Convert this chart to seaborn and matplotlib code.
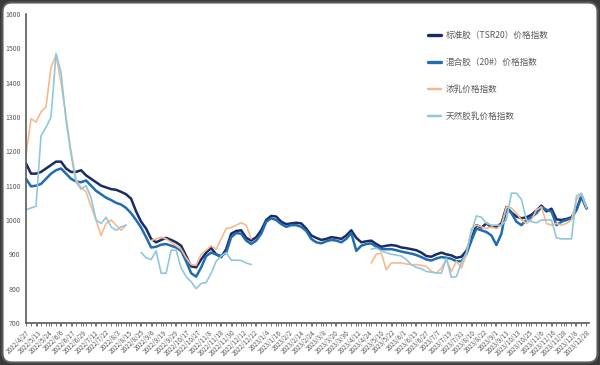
import numpy as np
import pandas as pd
import matplotlib
matplotlib.use("Agg")
import matplotlib.pyplot as plt
import seaborn as sns
from matplotlib.patches import FancyBboxPatch
from matplotlib.transforms import IdentityTransform
from matplotlib.lines import Line2D

sns.set_theme(style="white")
plt.rcParams['font.family'] = ['Noto Sans CJK SC', 'DejaVu Sans']

nan = np.nan

series_names = ["标准胶（TSR20）价格指数", "混合胶（20#）价格指数", "浓乳价格指数", "天然胶乳价格指数"]
series_colors = ["#1b2b63", "#1f6cb3", "#f6b98c", "#8fc7dc"]
series_widths = [1.8, 1.8, 1.2, 1.2]

tsr20 = [1165, 1135, 1135, 1140, 1150, 1160, 1170, 1170, 1150, 1140,
         1140, 1145, 1130, 1120, 1110, 1100, 1095, 1090, 1088, 1082,
         1075, 1062, 1025, 995, 975, 945, 935, 942, 948, 942,
         935, 925, 895, 865, 862, 885, 905, 918, 900, 892,
         915, 960, 968, 970, 948, 940, 950, 970, 1000, 1012,
         1010, 995, 988, 990, 992, 990, 975, 955, 948, 942,
         945, 950, 948, 945, 955, 970, 948, 935, 938, 940,
         930, 922, 925, 927, 925, 920, 918, 915, 912, 905,
         895, 893, 900, 905, 900, 897, 890, 893, 910, 945,
         985, 978, 990, 980, 980, 990, 1038, 1022, 1010, 1005,
         1008, 1015, 1028, 1042, 1025, 1033, 1002, 1000, 1003, 1008,
         1030, 1072, 1035]

mixed20 = [1120, 1098, 1100, 1105, 1120, 1135, 1145, 1150, 1135, 1120,
           1112, 1110, 1115, 1100, 1085, 1075, 1065, 1058, 1050, 1045,
           1035, 1020, 1000, 978, 950, 920, 922, 928, 930, 925,
           920, 910, 880, 845, 835, 862, 895, 905, 900, 895,
           905, 950, 962, 960, 940, 930, 940, 960, 995, 1005,
           1000, 988, 980, 985, 985, 980, 968, 945, 935, 932,
           938, 942, 940, 935, 945, 962, 910, 925, 930, 932,
           922, 915, 915, 915, 912, 908, 905, 902, 898, 892,
           885, 882, 888, 892, 890, 887, 880, 880, 900, 940,
           975, 970, 965, 955, 927, 960, 1035, 1020, 995, 985,
           1000, 1008, 1020, 1038, 1030, 1025, 985, 995, 1000, 1005,
           1030, 1067, 1033]

latex_conc = [1190, 1295, 1285, 1315, 1330, 1445, 1480, 1400, 1300, 1200,
              1116, 1095, 1082, 1040, 1000, 955, 990, 1000, 985, 970,
              985, nan, nan, nan, nan, 940, 945, 950, 945, 935,
              925, 915, 890, 870, 868, 900, 912, 925, 915, 945,
              975, 978, 985, 992, 985, 945, nan, nan, nan, nan,
              nan, nan, nan, nan, nan, nan, nan, nan, nan, nan,
              nan, nan, nan, nan, nan, nan, nan, nan, nan, 875,
              900, 904, 855, 875, 875, 875, 872, 870, 870, 868,
              865, 850, 845, 860, 885, 850, 880, 860, 900, 975,
              985, 980, 975, 980, 975, 985, 1038, 1035, 1020, 1000,
              990, 1000, 1030, 1038, 990, 985, 990, 985, 990, 1000,
              1060, 1075, 1035]

nat_latex = [1030, 1035, 1040, 1245, 1270, 1300, 1485, 1430, 1290, 1190,
             1110, 1090, 1100, 1065, 1000, 990, 1008, 980, 970, 980,
             985, nan, nan, 905, 890, 885, 910, 845, 845, 912,
             912, 860, 835, 820, 800, 815, 818, 845, 880, 895,
             905, 883, 883, 882, 875, 870, nan, nan, nan, nan,
             nan, nan, nan, nan, nan, nan, nan, nan, nan, nan,
             nan, nan, nan, nan, nan, nan, nan, nan, nan, 915,
             918, 910, 905, 900, 898, 895, 885, 870, 862, 858,
             850, 848, 846, 845, 888, 833, 835, 875, 905, 965,
             1012, 1008, 990, 985, 985, 985, 1000, 1078, 1078, 1060,
             1000, 995, 992, 1000, 1000, 1000, 948, 945, 945, 945,
             1070, 1078, 1038]

date_labels = ["2022/4/27", "2022/5/13", "2022/5/24", "2022/6/6", "2022/6/17", "2022/6/29",
               "2022/7/12", "2022/7/22", "2022/8/3", "2022/8/15", "2022/8/25", "2022/9/6",
               "2022/9/19", "2022/9/29", "2022/10/17", "2022/10/27", "2022/11/8", "2022/11/18",
               "2022/11/30", "2022/12/12", "2022/12/22", "2023/1/4", "2023/1/16", "2023/2/2",
               "2023/2/14", "2023/2/24", "2023/3/8", "2023/3/20", "2023/3/30", "2023/4/12",
               "2023/4/24", "2023/5/10", "2023/5/22", "2023/6/1", "2023/6/13", "2023/6/27",
               "2023/7/7", "2023/7/19", "2023/7/31", "2023/8/10", "2023/8/22", "2023/9/1",
               "2023/9/13", "2023/10/13", "2023/10/25", "2023/11/6", "2023/11/16", "2023/11/28",
               "2023/12/8", "2023/12/28"]

y_ticks = [700, 800, 900, 1000, 1100, 1200, 1300, 1400, 1500, 1600]

all_series = [tsr20, mixed20, latex_conc, nat_latex]
N = len(tsr20)

fig = plt.figure(figsize=(6, 3.65), dpi=100, facecolor="#3a3a3a")
fig.patches.append(FancyBboxPatch((2.5, 2.5), 595, 360,
                                  boxstyle="round,pad=0,rounding_size=9",
                                  transform=IdentityTransform(),
                                  facecolor="white", edgecolor="#5a5a5a",
                                  linewidth=1.5, zorder=-5))
ax = fig.add_axes([26/600, 1-323/365, (589-26)/600, (323-14)/365])
ax.set_facecolor("none")

handles = []
for name, vals, col, lw in zip(series_names, all_series, series_colors, series_widths):
    arr = np.array(vals, dtype=float)
    seg = np.cumsum(np.isnan(arr))
    df = pd.DataFrame({"idx": np.arange(N), "val": arr, "seg": seg}).dropna()
    sns.lineplot(data=df, x="idx", y="val", units="seg", estimator=None,
                 color=col, linewidth=lw, ax=ax, legend=False)
    handles.append(Line2D([0], [0], color=col, linewidth=lw + 0.6))

ax.set_xlim(0, N - 1 + 0.5)
ax.set_ylim(700, 1600)
ax.set_yticks(y_ticks)
ax.set_yticklabels([str(v) for v in y_ticks], fontsize=5, color="#595959")
tick_pos = np.linspace(0, N - 1, len(date_labels))
ax.set_xticks(tick_pos)
ax.set_xticklabels(date_labels, rotation=45, ha="right", rotation_mode="anchor",
                   fontsize=4.6, color="#595959")
ax.set_xticks(np.arange(N), minor=True)
ax.tick_params(axis="x", which="both", length=2, width=0.6, color="#595959",
               direction="out", pad=2, bottom=True)
ax.tick_params(axis="y", length=0, pad=4)
ax.set_xlabel("")
ax.set_ylabel("")
for s in ["top", "right"]:
    ax.spines[s].set_visible(False)
for s in ["left", "bottom"]:
    ax.spines[s].set_color("#595959")
    ax.spines[s].set_linewidth(1.2)
ax.grid(False)

ax.legend(handles, series_names, loc="upper left",
          bbox_to_anchor=(420/600, 1 - 23/365), bbox_transform=fig.transFigure,
          frameon=False, fontsize=6.2, labelspacing=2.1, handlelength=1.5,
          handletextpad=0.6, labelcolor="#595959")

fig.savefig("out.png", dpi=100, facecolor=fig.get_facecolor())
